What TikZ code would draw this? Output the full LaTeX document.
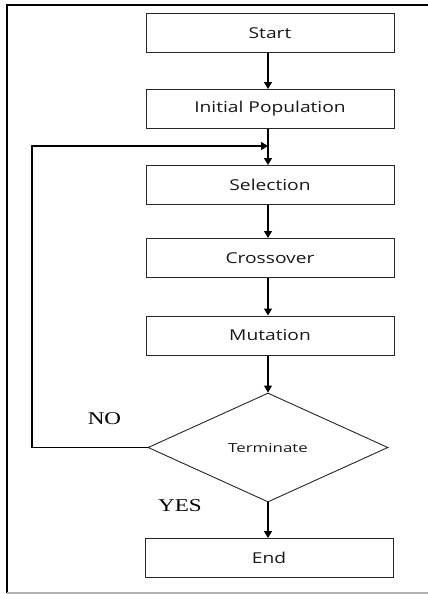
\documentclass[tikz,border=0pt]{standalone}
\usepackage{fontspec}
\setmainfont{Liberation Serif}
\newfontfamily\boxfont{Open Sans}
\usetikzlibrary{arrows.meta,shapes.geometric}
\newcommand\widetxt[1]{\scalebox{1.28}[1]{#1}}
\begin{document}
\begin{tikzpicture}[x=1pt,y=-1pt,
  procbox/.style={draw=black!85,line width=1pt,minimum width=248pt,minimum height=39pt,inner sep=0pt,text=black!90,font=\boxfont\fontsize{15}{17}\selectfont},
  decbox/.style={draw=black!85,line width=0.9pt,diamond,aspect=2.2,minimum width=240pt,minimum height=109pt,inner sep=0pt,text=black!90,font=\boxfont\fontsize{12.5}{14}\selectfont},
  conn/.style={draw=black,line width=1.1pt,-{Triangle[width=8pt,length=7pt]}},
  lbl/.style={font=\fontsize{18}{20}\selectfont}]
\useasboundingbox (0,0) rectangle (428,594);
\fill[white] (0,0) rectangle (428,594);
% frame
\draw[line width=2.6pt,black] (7,593) -- (7,5) -- (428,5);
\draw[line width=1.5pt,black!30] (7,593) -- (428,593);
% nodes
\node[procbox] (start) at (270,33.5) {\widetxt{Start}};
\node[procbox] (init) at (270,109) {\widetxt{Initial Population}};
\node[procbox] (sel) at (270,185) {\widetxt{Selection}};
\node[procbox] (cross) at (270,258) {\widetxt{Crossover}};
\node[procbox] (mut) at (270,335.5) {\widetxt{Mutation}};
\node[decbox] (term) at (268,447.5) {\scalebox{1.35}[1]{Terminate}};
\node[procbox] (end) at (269,558) {\widetxt{End}};
\coordinate (loopin) at (268,146);
\node[lbl] (no) at (104.5,419) {\widetxt{NO}};
\node[lbl] (yes) at (180,505.5) {\widetxt{YES}};
% connectors
\draw[conn] (start.south -| term.north) -- (init.north -| term.north);
\draw[conn] (init.south -| term.north) -- (sel.north -| term.north);
\draw[conn] (sel.south -| term.north) -- (cross.north -| term.north);
\draw[conn] (cross.south -| term.north) -- (mut.north -| term.north);
\draw[conn] (mut.south -| term.north) -- (term.north);
\draw[conn] (term.south) -- (end.north -| term.south);
\draw[conn] (term.west) -- (32,447.5) -- (32,146) -- (loopin);
\end{tikzpicture}
\end{document}
